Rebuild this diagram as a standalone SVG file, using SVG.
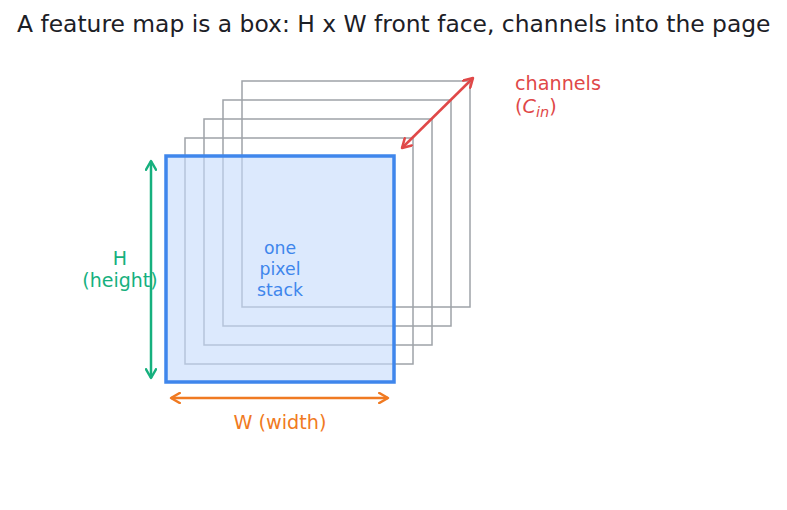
<svg xmlns="http://www.w3.org/2000/svg" width="787" height="510" viewBox="0 0 787 510">
<style>
  text { font-family: "DejaVu Sans", "Liberation Sans", sans-serif; }
  .back { fill: none; stroke: #9ea3a8; stroke-width: 1.5; }
</style>
<defs>
  <marker id="ag" viewBox="0 0 10 10" refX="8" refY="5" markerWidth="5" markerHeight="5" orient="auto-start-reverse"><path d="M1,1 L8,5 L1,9" fill="none" stroke="#16b07e" stroke-width="2" stroke-linecap="round" stroke-linejoin="round"/></marker>
  <marker id="ao" viewBox="0 0 10 10" refX="8" refY="5" markerWidth="5" markerHeight="5" orient="auto-start-reverse"><path d="M1,1 L8,5 L1,9" fill="none" stroke="#f07a22" stroke-width="2" stroke-linecap="round" stroke-linejoin="round"/></marker>
  <marker id="ar" viewBox="0 0 10 10" refX="8" refY="5" markerWidth="5" markerHeight="5" orient="auto-start-reverse"><path d="M1,1 L8,5 L1,9" fill="none" stroke="#e04848" stroke-width="2" stroke-linecap="round" stroke-linejoin="round"/></marker>
</defs>
<rect width="787" height="510" fill="#ffffff"/>
<text x="17" y="32" font-size="23.4" fill="#1c2026">A feature map is a box: H x W front face, channels into the page</text>
<g id="slice4"><rect class="back" x="242" y="81" width="228" height="226"/></g>
<g id="slice3"><rect class="back" x="223" y="100" width="228" height="226"/></g>
<g id="slice2"><rect class="back" x="204" y="119" width="228" height="226"/></g>
<g id="slice1"><rect class="back" x="185" y="138" width="228" height="226"/></g>
<g id="front">
  <rect x="166" y="156" width="228" height="226" fill="#c4dafb" fill-opacity="0.6" stroke="#3f86ec" stroke-width="3.5" stroke-opacity="1"/>
  <text x="280" y="254" font-size="17.3" fill="#3f86ec" text-anchor="middle">one</text>
  <text x="280" y="275" font-size="17.3" fill="#3f86ec" text-anchor="middle">pixel</text>
  <text x="280" y="296" font-size="17.3" fill="#3f86ec" text-anchor="middle">stack</text>
</g>
<g id="connectors">
  <line x1="151" y1="161" x2="151" y2="378" stroke="#16b07e" stroke-width="2.5" marker-start="url(#ag)" marker-end="url(#ag)"/>
  <line x1="171" y1="398" x2="388" y2="398" stroke="#f07a22" stroke-width="2.5" marker-start="url(#ao)" marker-end="url(#ao)"/>
  <line x1="402" y1="148" x2="473" y2="78" stroke="#e04848" stroke-width="2.5" marker-start="url(#ar)" marker-end="url(#ar)"/>
</g>
<g id="labels">
  <text x="120" y="265" font-size="19" fill="#16b07e" text-anchor="middle">H</text>
  <text x="120" y="287" font-size="19" fill="#16b07e" text-anchor="middle">(height)</text>
  <text x="280" y="429" font-size="19.2" fill="#f07a22" text-anchor="middle">W (width)</text>
  <text x="515" y="90" font-size="19.2" fill="#e04848">channels</text>
  <text x="515" y="113" font-size="19.2" fill="#e04848">(<tspan font-style="italic">C</tspan><tspan font-style="italic" font-size="14.5" dy="4">in</tspan><tspan dy="-4">)</tspan></text>
</g>
</svg>
